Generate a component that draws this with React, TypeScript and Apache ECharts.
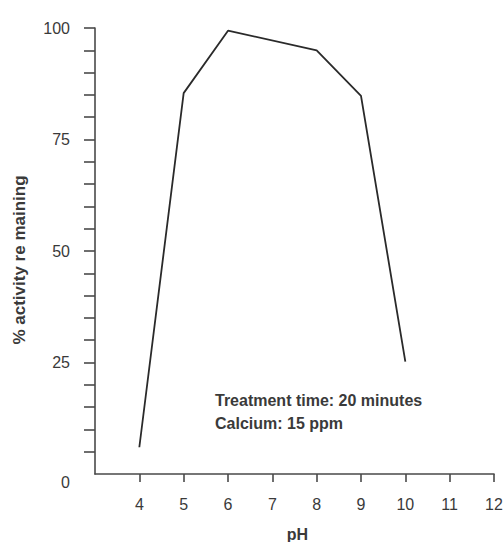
import React, { useEffect, useRef } from "react";
import * as echarts from "echarts";

const phValues = [4, 5, 6, 8, 9, 10];
const activityValues = [6, 85.4, 99.4, 95, 84.8, 25.2];
const xTickValues = [4, 5, 6, 7, 8, 9, 10, 11, 12];
const yTickValues = [5, 10, 15, 20, 25, 30, 35, 40, 45, 50, 55, 60, 65, 70, 75, 80, 85, 90, 95, 100];
const yLabelValues = [0, 25, 50, 75, 100];
const annotationLines = ["Treatment time: 20 minutes", "Calcium: 15 ppm"];

const FONT = "'Liberation Sans Narrow', 'Liberation Sans', Arial, sans-serif";
const AXIS_COLOR = "#4a4a4a";
const TEXT_COLOR = "#3a3a3a";

export default function App() {
  const ref = useRef<HTMLDivElement>(null);
  useEffect(() => {
    if (!ref.current) return;
    const chart = echarts.init(ref.current, undefined, { renderer: "svg" });
    chart.setOption({
      animation: false,
      grid: { left: 95, right: 9, top: 28, bottom: 68, containLabel: false, outerBoundsMode: "none" },
      xAxis: {
        type: "value",
        min: 3,
        max: 12,
        interval: 1,
        name: "pH",
        nameLocation: "middle",
        nameGap: 52,
        nameTextStyle: { fontFamily: FONT, fontWeight: "bold", fontSize: 16, color: TEXT_COLOR, padding: [0, 0, 0, 6] },
        axisLine: { show: true, lineStyle: { color: AXIS_COLOR, width: 1.6 } },
        axisTick: { show: true, length: 8, customValues: xTickValues, lineStyle: { color: AXIS_COLOR, width: 1.6 } },
        axisLabel: { customValues: xTickValues, margin: 22, fontFamily: FONT, fontSize: 16, color: TEXT_COLOR },
        splitLine: { show: false },
      },
      yAxis: {
        type: "value",
        min: 0,
        max: 100,
        interval: 5,
        name: "% activity re maining",
        nameLocation: "middle",
        nameGap: 67,
        nameRotate: 90,
        nameTextStyle: { fontFamily: FONT, fontWeight: "bold", fontSize: 17, color: TEXT_COLOR, padding: [0, 18, 0, 0] },
        axisLine: { show: true, lineStyle: { color: AXIS_COLOR, width: 1.6 } },
        axisTick: { show: true, length: 11, customValues: yTickValues, lineStyle: { color: AXIS_COLOR, width: 1.6 } },
        axisLabel: {
          customValues: yLabelValues,
          margin: 25,
          fontFamily: FONT,
          fontSize: 16,
          color: TEXT_COLOR,
          formatter: (v: number) => (v === 0 ? "{z|0}" : String(v)),
          rich: { z: { fontFamily: FONT, fontSize: 16, color: TEXT_COLOR, padding: [16, 0, 0, 0] } },
        },
        splitLine: { show: false },
      },
      series: [
        {
          type: "line",
          data: phValues.map((x, i) => [x, activityValues[i]]),
          showSymbol: false,
          symbol: "none",
          lineStyle: { color: "#2a2a2a", width: 1.8 },
        },
      ],
      graphic: [
        {
          type: "text",
          left: 215,
          top: 389,
          style: {
            text: annotationLines.join("\n"),
            fontFamily: FONT,
            fontWeight: "bold",
            fontSize: 16,
            lineHeight: 23,
            fill: TEXT_COLOR,
          },
        },
      ],
    });
    return () => chart.dispose();
  }, []);
  return <div ref={ref} style={{ width: 503, height: 542, position: "absolute", left: 0, top: 0 }} />;
}
